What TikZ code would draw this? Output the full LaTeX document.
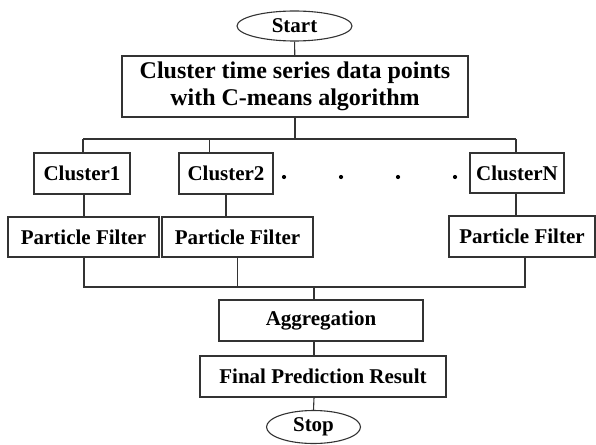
\documentclass[tikz,border=0pt]{standalone}
\usepackage{fontspec}
\setmainfont{Liberation Serif}
\usetikzlibrary{shapes.geometric}
\begin{document}
\begin{tikzpicture}[x=1pt,y=-1pt,
  line/.style={draw=black!80,line width=1.1pt},
  box/.style={line,rectangle,inner sep=0pt,font=\fontsize{21}{24}\selectfont\bfseries},
  oval/.style={line,ellipse,inner sep=0pt,font=\fontsize{21}{24}\selectfont\bfseries},
  dotnode/.style={circle,fill=black,inner sep=0pt,minimum size=4.2pt}]
\useasboundingbox (0,0) rectangle (596,444);
\node[oval,minimum width=115pt,minimum height=30pt] (start) at (294.5,26) {Start};
\node[box,minimum width=346pt,minimum height=61pt,align=center,font=\fontsize{24}{27}\selectfont\bfseries] (main) at (295,86.5) {Cluster time series data points\\with C-means algorithm};
\node[box,minimum width=96pt,minimum height=41pt] (c1) at (82,173.5) {Cluster1};
\node[box,minimum width=94pt,minimum height=41pt] (c2) at (226,173.5) {Cluster2};
\node[box,minimum width=94pt,minimum height=40pt] (cn) at (517,173) {ClusterN};
\node[box,minimum width=151pt,minimum height=40pt] (p1) at (83.5,237) {Particle Filter};
\node[box,minimum width=151pt,minimum height=40pt] (p2) at (237.5,237) {Particle Filter};
\node[box,minimum width=146pt,minimum height=41pt] (pn) at (522,236.5) {Particle Filter};
\node[box,minimum width=204pt,minimum height=41pt] (agg) at (321,320.5) {Aggregation};
\node[box,minimum width=246pt,minimum height=41pt] (fin) at (323,376.5) {Final Prediction Result};
\node[oval,minimum width=94pt,minimum height=33pt] (stop) at (313.5,427) {Stop};
\node[dotnode] (d1) at (284,177) {};
\node[dotnode] (d2) at (341,177) {};
\node[dotnode] (d3) at (398,177) {};
\node[dotnode] (d4) at (455,177) {};
\coordinate (bL) at (83,139);
\coordinate (bM) at (209.5,139);
\coordinate (bR) at (516,139);
\coordinate (mL) at (84,287);
\coordinate (mR) at (525,287);
\coordinate (mM) at (314,287);
\draw[line] (start) -- (main);
\draw[line] (main.south) -- (main.south |- bL);
\draw[line] (bL) -- (bR);
\draw[line] (bL) -- (bL |- c1.north);
\draw[line] (bM) -- (bM |- c2.north);
\draw[line] (bR) -- (bR |- cn.north);
\draw[line] (c1.south -| mL) -- (mL |- p1.north);
\draw[line] (c2.south) -- (c2.south |- p2.north);
\draw[line] (cn.south -| bR) -- (bR |- pn.north);
\draw[line] (mL |- p1.south) -- (mL) -- (mR) -- (mR |- pn.south);
\draw[line] (p2.south) -- (p2.south |- mL);
\draw[line] (mM) -- (mM |- agg.north);
\draw[line] (mM |- agg.south) -- (mM |- fin.north);
\draw[line] (mM |- fin.south) -- (stop.north);
\end{tikzpicture}
\end{document}
